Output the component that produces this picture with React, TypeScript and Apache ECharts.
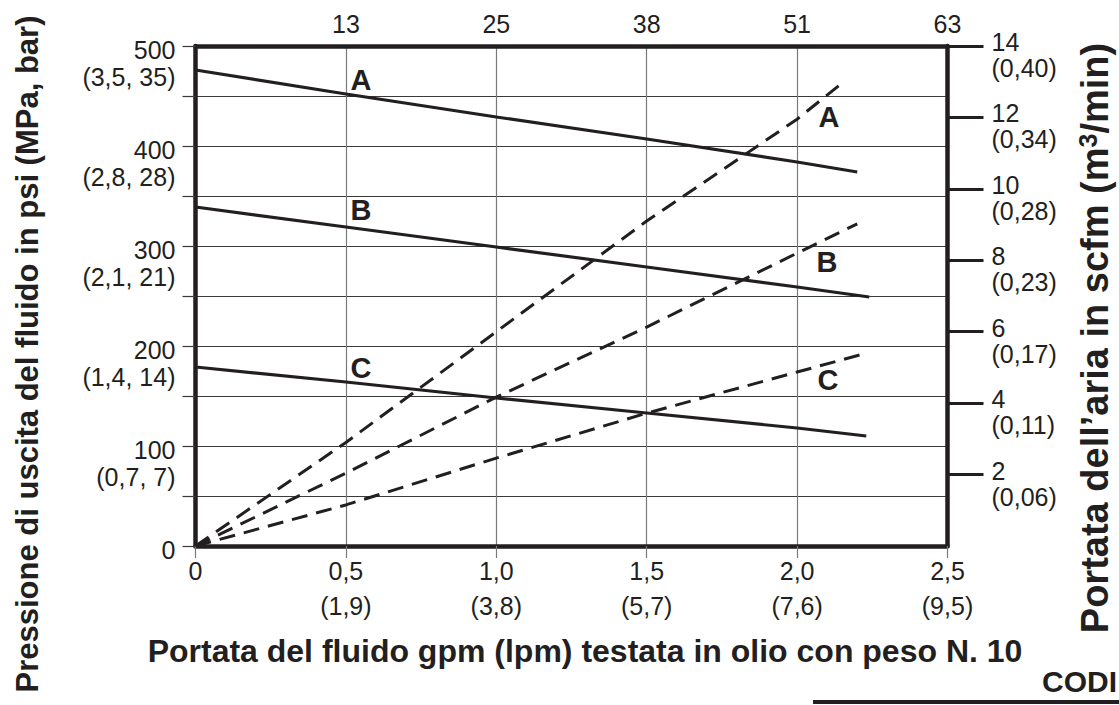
import React, { useEffect, useRef } from "react";
import * as echarts from "echarts";

// ---- axis labels ----
const gpmTickValues = [0, 0.5, 1.0, 1.5, 2.0, 2.5];
const gpmLabels = ["0", "0,5", "1,0", "1,5", "2,0", "2,5"];
const lpmLabels = ["", "(1,9)", "(3,8)", "(5,7)", "(7,6)", "(9,5)"];
const topLabels = ["", "13", "25", "38", "51", "63"];
const psiLabels = ["0", "100", "200", "300", "400", "500"];
const mpaBarLabels = ["", "(0,7, 7)", "(1,4, 14)", "(2,1, 21)", "(2,8, 28)", "(3,5, 35)"];
const scfmTickValues = [2, 4, 6, 8, 10, 12, 14];
const scfmLabels = ["2", "4", "6", "8", "10", "12", "14"];
const m3minLabels = ["(0,06)", "(0,11)", "(0,17)", "(0,23)", "(0,28)", "(0,34)", "(0,40)"];

// ---- series: fluid outlet pressure (psi) vs fluid flow (gpm) ----
const pressureA_gpm = [0, 0.5, 1.0, 1.5, 2.0, 2.2];
const pressureA_psi = [476, 452, 429, 407, 384, 374];
const pressureB_gpm = [0, 0.5, 1.0, 1.5, 2.0, 2.24];
const pressureB_psi = [339, 319, 299, 279, 259, 249];
const pressureC_gpm = [0, 0.5, 1.0, 1.5, 2.0, 2.23];
const pressureC_psi = [179, 164, 148, 133, 118, 110];

// ---- series: air consumption (scfm) vs fluid flow (gpm) ----
const airA_gpm = [0, 0.5, 1.0, 1.5, 2.0, 2.14];
const airA_scfm = [0, 2.9, 6.0, 9.1, 11.95, 12.9];
const airB_gpm = [0, 0.5, 1.0, 1.5, 2.0, 2.2];
const airB_scfm = [0, 2.04, 4.17, 6.13, 8.2, 9.02];
const airC_gpm = [0, 0.5, 1.0, 1.5, 2.0, 2.23];
const airC_scfm = [0, 1.15, 2.46, 3.72, 4.87, 5.4];

const INK = "#231f20";
const FONT = "'Liberation Sans', Arial, Helvetica, sans-serif";

const zip = (xs: number[], ys: number[]) => xs.map((x, i) => [x, ys[i]]);

export default function App() {
  const ref = useRef<HTMLDivElement>(null);

  useEffect(() => {
    if (!ref.current) return;
    const chart = echarts.init(ref.current, undefined, { renderer: "svg" });

    const solid = (name: string, d: number[][]) => ({
      name,
      type: "line",
      xAxisIndex: 0,
      yAxisIndex: 0,
      data: d,
      showSymbol: false,
      symbol: "none",
      lineStyle: { color: INK, width: 3.2, type: "solid" },
      z: 5,
    });
    const dashed = (name: string, d: number[][]) => ({
      name,
      type: "line",
      xAxisIndex: 0,
      yAxisIndex: 1,
      data: d,
      showSymbol: false,
      symbol: "none",
      lineStyle: { color: INK, width: 3, type: [16, 9] },
      z: 5,
    });

    const curveLetter = (t: string, x: number, y: number) => ({
      type: "text",
      x,
      y,
      style: {
        text: t,
        font: `bold 29px ${FONT}`,
        fill: INK,
        align: "center",
        verticalAlign: "middle",
      },
      z: 10,
    });

    const option: any = {
      animation: false,
      backgroundColor: "#ffffff",
      textStyle: { fontFamily: FONT },
      grid: { left: 195.5, top: 46, width: 752, height: 500, containLabel: false },
      xAxis: [
        {
          type: "value",
          position: "bottom",
          min: 0,
          max: 2.5,
          interval: 0.5,
          axisLine: { show: true, onZero: false, lineStyle: { color: INK, width: 4.5 } },
          axisTick: { show: true, inside: false, length: 12, lineStyle: { color: "#7a7a7a", width: 1.2 } },
          splitLine: { show: true, lineStyle: { color: "#7a7a7a", width: 1.2 } },
          axisLabel: {
            margin: 10,
            color: INK,
            fontSize: 25,
            fontFamily: FONT,
            formatter: (v: number) => {
              const i = Math.round(v / 0.5);
              if (!lpmLabels[i]) return `{a|${gpmLabels[i]}}`;
              return `{a|${gpmLabels[i]}}\n{b|${lpmLabels[i]}}`;
            },
            rich: {
              a: { fontSize: 25, lineHeight: 30, color: INK, fontFamily: FONT },
              b: { fontSize: 25, lineHeight: 40, color: INK, fontFamily: FONT },
            },
          },
        },
        {
          type: "value",
          position: "top",
          min: 0,
          max: 2.5,
          interval: 0.5,
          axisLine: { show: true, onZero: false, lineStyle: { color: INK, width: 4.5 } },
          axisTick: { show: false },
          splitLine: { show: false },
          axisLabel: {
            margin: 10,
            color: INK,
            fontSize: 25,
            fontFamily: FONT,
            formatter: (v: number) => topLabels[Math.round(v / 0.5)] || "",
          },
        },
      ],
      yAxis: [
        {
          type: "value",
          position: "left",
          min: 0,
          max: 500,
          interval: 50,
          axisLine: { show: true, onZero: false, lineStyle: { color: INK, width: 4.5 } },
          axisTick: { show: true, inside: false, length: 13, lineStyle: { color: "#3a3a3a", width: 1.2 } },
          splitLine: { show: true, lineStyle: { color: "#3a3a3a", width: 1.2 } },
          axisLabel: {
            margin: 20,
            color: INK,
            fontSize: 25,
            fontFamily: FONT,
            formatter: (v: number) => {
              const r = Math.round(v);
              if (r % 100 !== 0) return "";
              const i = r / 100;
              return `{s| }\n{a|${psiLabels[i]}}\n{b|${mpaBarLabels[i] || " "}}`;
            },
            rich: {
              s: { fontSize: 1, lineHeight: 35 },
              a: { fontSize: 25, lineHeight: 27, color: INK, fontFamily: FONT },
              b: { fontSize: 25, lineHeight: 27, color: INK, fontFamily: FONT },
            },
          },
        },
        {
          type: "value",
          position: "right",
          min: 0,
          max: 14,
          interval: 2,
          axisLine: { show: true, onZero: false, lineStyle: { color: INK, width: 4.5 } },
          axisTick: {
            show: true,
            inside: false,
            length: 36,
            customValues: scfmTickValues,
            lineStyle: { color: INK, width: 3 },
          },
          splitLine: { show: false },
          axisLabel: {
            margin: 44,
            color: INK,
            fontSize: 25,
            fontFamily: FONT,
            customValues: scfmTickValues,
            formatter: (v: number) => {
              const i = scfmTickValues.indexOf(Math.round(v));
              if (i < 0) return "";
              return `{s| }\n{a|${scfmLabels[i]}}\n{b|${m3minLabels[i]}}`;
            },
            rich: {
              s: { fontSize: 1, lineHeight: 18 },
              a: { fontSize: 25, lineHeight: 26, color: INK, fontFamily: FONT },
              b: { fontSize: 25, lineHeight: 26, color: INK, fontFamily: FONT },
            },
          },
        },
      ],
      series: [
        solid("A psi", zip(pressureA_gpm, pressureA_psi)),
        solid("B psi", zip(pressureB_gpm, pressureB_psi)),
        solid("C psi", zip(pressureC_gpm, pressureC_psi)),
        dashed("A scfm", zip(airA_gpm, airA_scfm)),
        dashed("B scfm", zip(airB_gpm, airB_scfm)),
        dashed("C scfm", zip(airC_gpm, airC_scfm)),
      ],
      graphic: [
        {
          type: "text",
          x: 27,
          y: 354,
          rotation: Math.PI / 2,
          style: {
            text: "Pressione di uscita del fluido in psi (MPa, bar)",
            font: `bold 31px ${FONT}`,
            fill: INK,
            align: "center",
            verticalAlign: "middle",
          },
        },
        {
          type: "text",
          x: 1095,
          y: 338,
          rotation: Math.PI / 2,
          style: {
            text: "Portata dell’aria in scfm (m{sup|3}/min)",
            font: `bold 38px ${FONT}`,
            fill: INK,
            align: "center",
            verticalAlign: "middle",
            lineHeight: 40,
            rich: {
              sup: {
                font: `bold 25px ${FONT}`,
                fill: INK,
                verticalAlign: "top",
                lineHeight: 40,
              },
            },
          },
        },
        {
          type: "text",
          x: 585,
          y: 651,
          style: {
            text: "Portata del fluido gpm (lpm) testata in olio con peso N. 10",
            font: `bold 32px ${FONT}`,
            fill: INK,
            align: "center",
            verticalAlign: "middle",
          },
        },
        {
          type: "text",
          x: 1117,
          y: 681,
          style: {
            text: "CODI",
            font: `bold 30px ${FONT}`,
            fill: INK,
            align: "right",
            verticalAlign: "middle",
          },
        },
        {
          type: "rect",
          shape: { x: 813, y: 700, width: 320, height: 4 },
          style: { fill: INK },
        },
        curveLetter("A", 361, 80),
        curveLetter("B", 361, 210),
        curveLetter("C", 361, 368),
        curveLetter("A", 829, 117),
        curveLetter("B", 827, 262),
        curveLetter("C", 828, 380),
      ],
    };

    chart.setOption(option);
    return () => chart.dispose();
  }, []);

  return (
    <div
      ref={ref}
      style={{ position: "absolute", left: 0, top: 0, width: 1119, height: 705, background: "#fff" }}
    />
  );
}
